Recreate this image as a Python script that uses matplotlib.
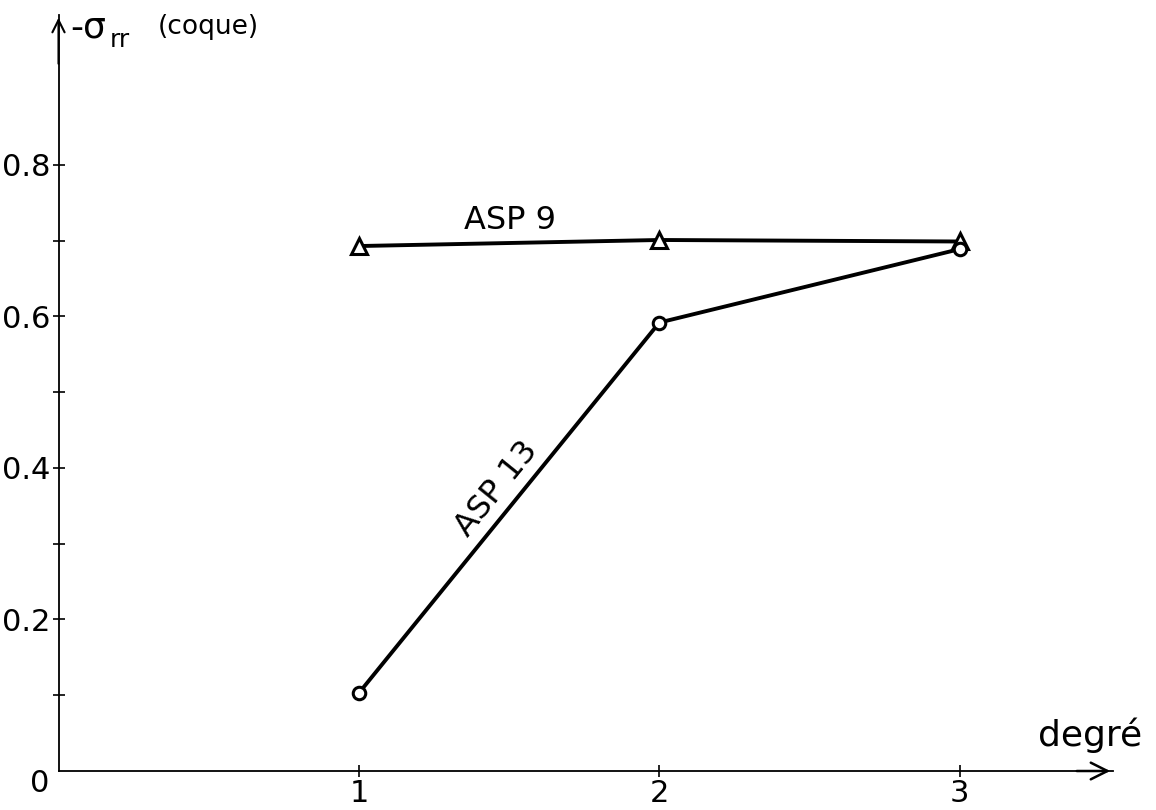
import matplotlib
matplotlib.use("Agg")
import matplotlib.pyplot as plt

# data
degre = [1, 2, 3]
asp9 = [0.693, 0.701, 0.699]
asp13 = [0.103, 0.592, 0.689]
yticks_major = [0.2, 0.4, 0.6, 0.8]
yticks_all = [0.1, 0.2, 0.3, 0.4, 0.5, 0.6, 0.7, 0.8]

plt.rcParams['font.family'] = ['DejaVu Sans']

fig = plt.figure(figsize=(11.56, 8.10), dpi=100)
# axes placed so that origin sits at ~(58, 771) px
ax = fig.add_axes([58.5 / 1156, (810 - 771) / 810, (1113 - 58.5) / 1156, (771 - 15) / 810])
ax.set_xlim(0, 3.51)
ax.set_ylim(0, 0.998)

for s in ['top', 'right']:
    ax.spines[s].set_visible(False)
for s in ['left', 'bottom']:
    ax.spines[s].set_linewidth(1.3)
    ax.spines[s].set_color('black')

# arrows on axis ends
ax.annotate('', xy=(3.51, 0), xytext=(3.38, 0), xycoords='data',
            arrowprops=dict(arrowstyle='->', lw=1.8, color='black', mutation_scale=30),
            annotation_clip=False)
ax.annotate('', xy=(0, 0.998), xytext=(0, 0.93), xycoords='data',
            arrowprops=dict(arrowstyle='->', lw=1.5, color='black', mutation_scale=22),
            annotation_clip=False)

# ticks
ax.set_yticks(yticks_all)
ax.set_yticklabels([f"{v:.1f}" if round(v, 1) in yticks_major else '' for v in yticks_all])
ax.set_xticks(degre)
ax.set_xticklabels([str(d) for d in degre])
ax.tick_params(axis='y', direction='inout', length=9, width=1.2, labelsize=22, pad=1)
ax.tick_params(axis='x', direction='inout', length=8, width=1.2, labelsize=22, pad=2)

ax.text(-0.03, 0.003, '0', fontsize=22, ha='right', va='top')

# curves
ax.plot(degre, asp9, color='black', lw=2.8, marker='^', markersize=11,
        markerfacecolor='white', markeredgewidth=2.2, clip_on=False, zorder=3)
ax.plot(degre, asp13, color='black', lw=2.8, marker='o', markersize=9,
        markerfacecolor='white', markeredgewidth=2.2, clip_on=False, zorder=3)

ax.text(1.502, 0.727, 'ASP 9', fontsize=23, ha='center', va='center')
ax.text(1.46, 0.372, 'ASP 13', fontsize=23, ha='center', va='center', rotation=51)

# axis labels
fig.text(70 / 1156, 1 - 28 / 810, '-σ', fontsize=26, ha='left', va='center')
fig.text(110 / 1156, 1 - 40 / 810, 'rr', fontsize=18, ha='left', va='center')
fig.text(158 / 1156, 1 - 27 / 810, '(coque)', fontsize=19, ha='left', va='center')
fig.text(1142 / 1156, 1 - 735 / 810, 'degré', fontsize=26, ha='right', va='center')

fig.savefig('out.png', dpi=100)
